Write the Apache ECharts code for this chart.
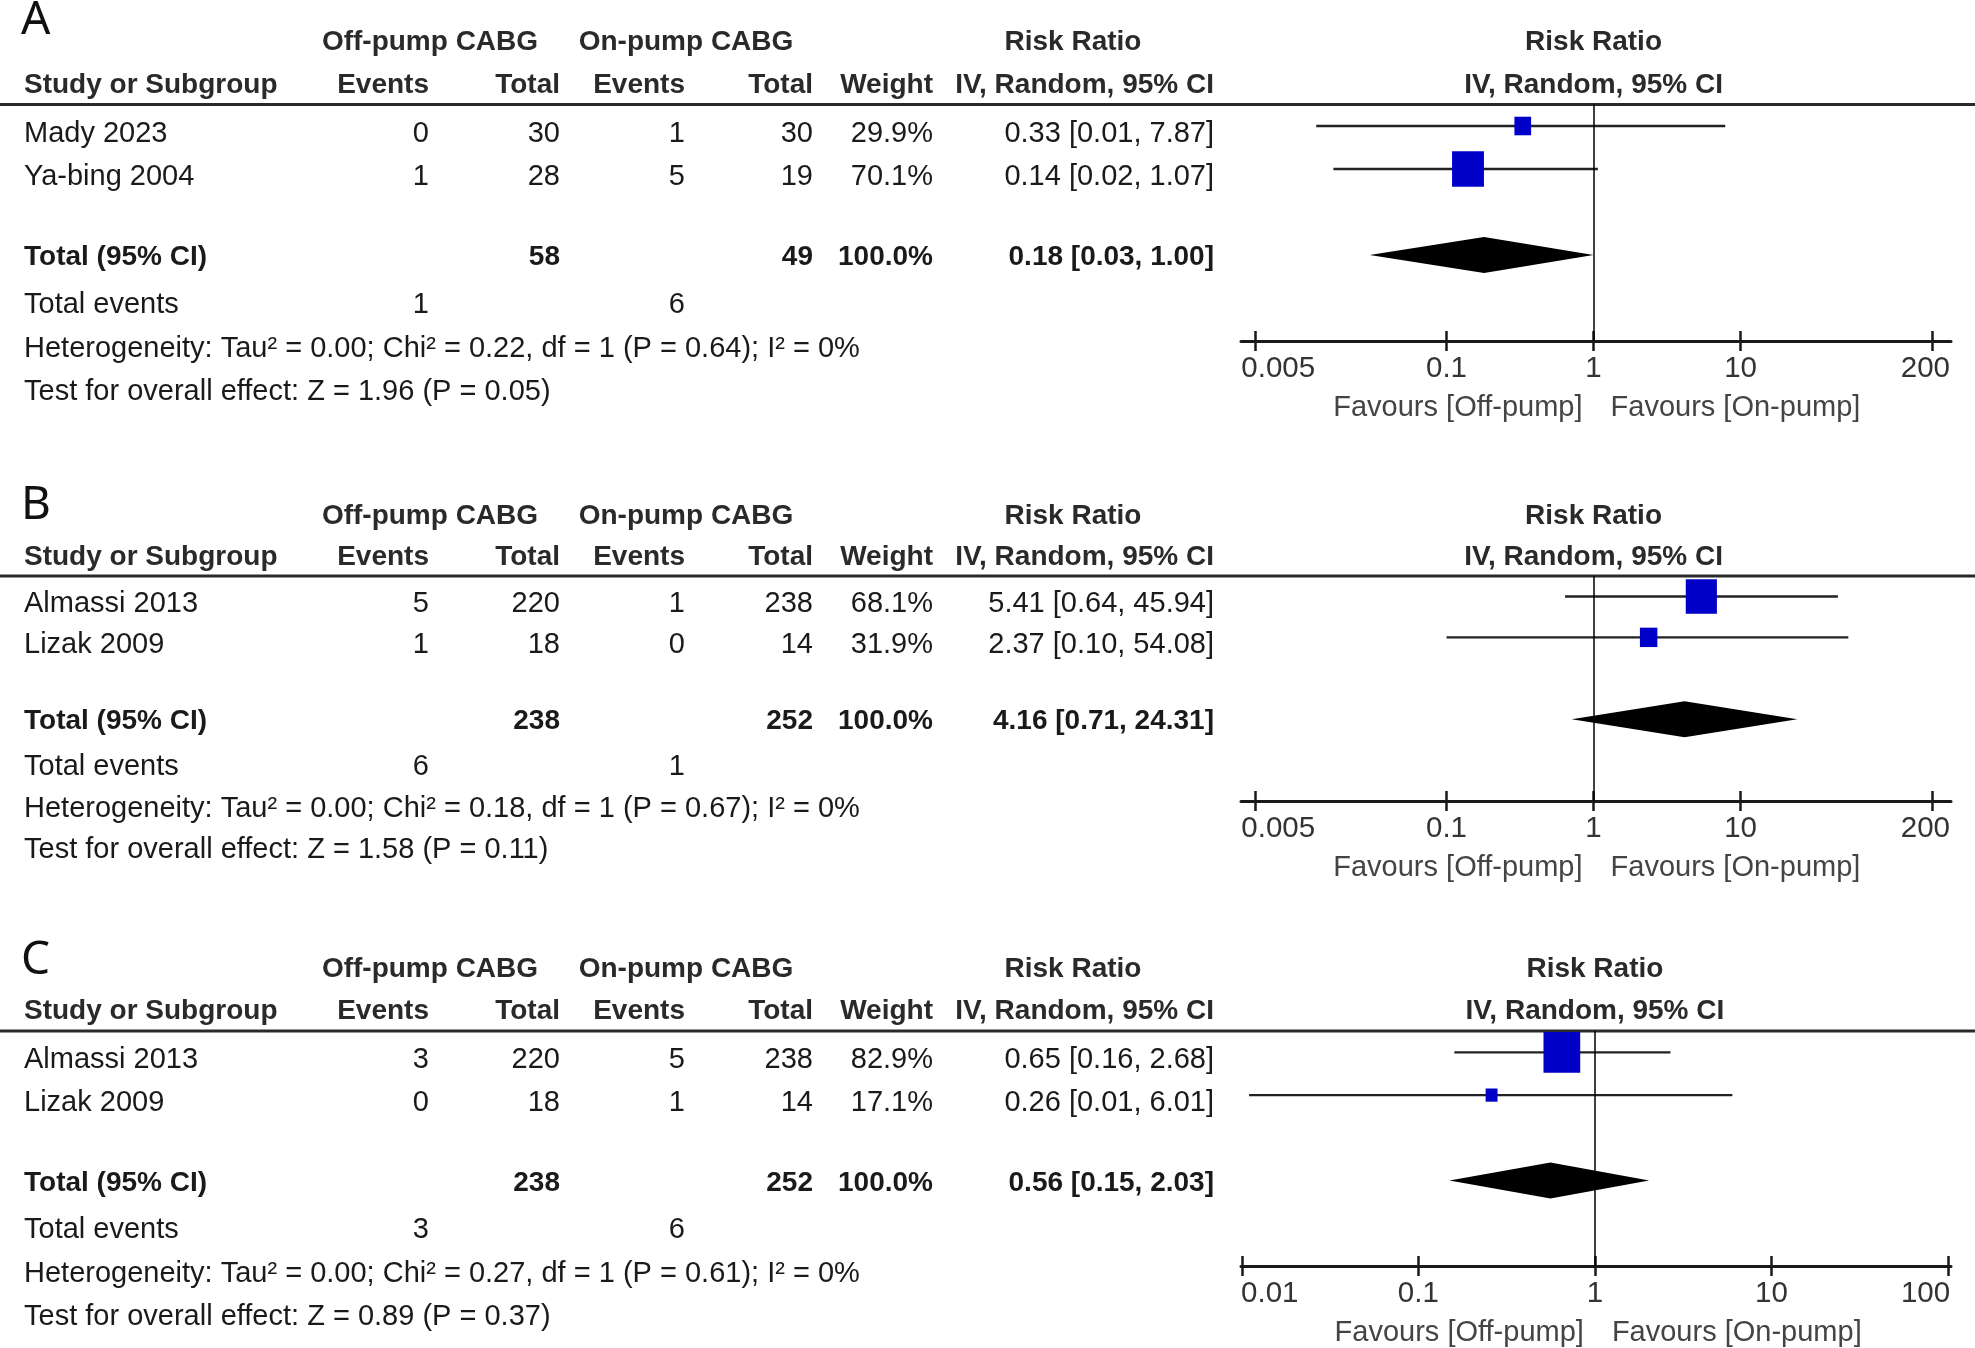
<!DOCTYPE html>
<html>
<head>
<meta charset="utf-8">
<script src="https://cdn.jsdelivr.net/npm/echarts@6/dist/echarts.min.js"></script>
<style>
html,body{margin:0;padding:0;background:#fff;}
#chart{width:1975px;height:1348px;}
</style>
</head>
<body>
<div id="chart"></div>
<script>
// ---------------- DATA ----------------
const panelLabels = ['A', 'B', 'C'];
const studyNames = [['Mady 2023', 'Ya-bing 2004'], ['Almassi 2013', 'Lizak 2009'], ['Almassi 2013', 'Lizak 2009']];
const offEvents = [[0, 1], [5, 1], [3, 0]];
const offTotal = [[30, 28], [220, 18], [220, 18]];
const onEvents = [[1, 5], [1, 0], [5, 1]];
const onTotal = [[30, 19], [238, 14], [238, 14]];
const weights = [[29.9, 70.1], [68.1, 31.9], [82.9, 17.1]];
const riskRatio = [[0.33, 0.14], [5.41, 2.37], [0.65, 0.26]];
const ciLow = [[0.013, 0.017], [0.64, 0.10], [0.16, 0.011]];
const ciHigh = [[7.87, 1.07], [45.94, 54.08], [2.68, 6.01]];
const totalOff = [58, 238, 238];
const totalOn = [49, 252, 252];
const totalRR = [0.18, 4.16, 0.56];
const totalLow = [0.03, 0.71, 0.15];
const totalHigh = [1.00, 24.31, 2.03];
const totalEventsOff = [1, 6, 3];
const totalEventsOn = [6, 1, 6];
const heterogeneity = [
  'Heterogeneity: Tau\u00b2 = 0.00; Chi\u00b2 = 0.22, df = 1 (P = 0.64); I\u00b2 = 0%',
  'Heterogeneity: Tau\u00b2 = 0.00; Chi\u00b2 = 0.18, df = 1 (P = 0.67); I\u00b2 = 0%',
  'Heterogeneity: Tau\u00b2 = 0.00; Chi\u00b2 = 0.27, df = 1 (P = 0.61); I\u00b2 = 0%'
];
const overallEffect = [
  'Test for overall effect: Z = 1.96 (P = 0.05)',
  'Test for overall effect: Z = 1.58 (P = 0.11)',
  'Test for overall effect: Z = 0.89 (P = 0.37)'
];
const axisTicks = [[0.005, 0.1, 1, 10, 200], [0.005, 0.1, 1, 10, 200], [0.01, 0.1, 1, 10, 100]];
const axisRange = [[0.004, 270], [0.004, 270], [0.0099, 104]];
const groupHeaders = ['Off-pump CABG', 'On-pump CABG', 'Risk Ratio'];
const columnHeaders = ['Study or Subgroup', 'Events', 'Total', 'Events', 'Total', 'Weight', 'IV, Random, 95% CI'];
const favoursLabels = ['Favours [Off-pump]', 'Favours [On-pump]'];

// ---------------- LAYOUT ----------------
const W = 1975;
const panelTop = [104.5, 576, 1031];
const panelAxisY = [341, 801, 1266];
const letterY = [21, 506, 961];
const endLabelPad = [[46, 13], [46, 13], [56, 45]];
const gridLeft = 1241, gridRight = 24;
const studyX = 24;
const colRight = [429, 560, 685, 813, 933, 1214];
const groupCenter = [430, 686, 1073];
const ROW = {head1: -1, head2: 0, total: 4, events: 5, het: 6, test: 7};
const ROWOFF = {head1: 2, head2: 2, study: 8, total: 2.5, events: 7, het: 8, test: 8};
const FONT = '"Liberation Sans", Arial, sans-serif';
const FS = 29, FSB = 28, FSAX = 29.5;
const TXT = '#1a1a1a', HEAD = '#2a2a2a';

const chart = echarts.init(document.getElementById('chart'), null, {renderer: 'canvas'});

const grids = [], xAxes = [], yAxes = [], series = [];
for (let p = 0; p < 3; p++) {
  grids.push({left: gridLeft, right: gridRight, top: panelTop[p], height: panelAxisY[p] - panelTop[p]});
  const base = {
    type: 'log', logBase: 10, gridIndex: p, min: axisRange[p][0], max: axisRange[p][1],
    position: 'bottom', splitLine: {show: false}, minorTick: {show: false}
  };
  const ticks = axisTicks[p];
  const lblStyle = {fontFamily: FONT, fontSize: FSAX, color: '#333'};
  xAxes.push(Object.assign({}, base, {
    axisLine: {show: true, lineStyle: {color: '#1a1a1a', width: 3}},
    axisTick: {show: true, inside: false, length: 10, lineStyle: {color: '#1a1a1a', width: 2.5}, customValues: ticks},
    axisLabel: {show: true, margin: 13, fontFamily: FONT, fontSize: FSAX, color: '#333',
      customValues: ticks,
      formatter: v => {
        const s = String(parseFloat(Number(v).toPrecision(6)));
        if (Math.abs(Math.log10(v) - Math.log10(ticks[0])) < 1e-6) return '{a|' + s + '}';
        if (Math.abs(Math.log10(v) - Math.log10(ticks[ticks.length - 1])) < 1e-6) return '{z|' + s + '}';
        return s;
      },
      rich: {
        a: Object.assign({padding: [0, 0, 0, endLabelPad[p][0]]}, lblStyle),
        z: Object.assign({padding: [0, endLabelPad[p][1], 0, 0]}, lblStyle)
      }}
  }));
  xAxes.push(Object.assign({}, base, {
    axisLine: {show: false},
    axisTick: {show: true, inside: true, length: 10, lineStyle: {color: '#1a1a1a', width: 2.5}, customValues: ticks},
    axisLabel: {show: false}
  }));
  yAxes.push({type: 'value', gridIndex: p, min: 0.5, max: 6, inverse: true, show: false});

  const studyData = riskRatio[p].map((v, i) => [v, i + 1, ciLow[p][i], ciHigh[p][i], weights[p][i]]);
  series.push({
    type: 'custom', xAxisIndex: 2 * p, yAxisIndex: p, data: studyData, z: 3,
    encode: {x: 0, y: 1},
    renderItem: (params, api) => {
      const row = api.value(1);
      const c = api.coord([api.value(0), row]);
      const l = api.coord([api.value(2), row]);
      const r = api.coord([api.value(3), row]);
      const h = 6 + 0.42 * api.value(4);
      const w = 0.9 * h;
      return {type: 'group', children: [
        {type: 'line', shape: {x1: l[0], y1: l[1], x2: r[0], y2: r[1]}, style: {stroke: '#222', lineWidth: 2.4}},
        {type: 'rect', shape: {x: c[0] - w / 2, y: c[1] - h / 2, width: w, height: h}, style: {fill: '#0000c8'}}
      ]};
    },
    markLine: {silent: true, symbol: 'none', label: {show: false},
      lineStyle: {color: '#000', width: 1.5, type: 'solid'}, data: [{xAxis: 1}]}
  });
  series.push({
    type: 'custom', xAxisIndex: 2 * p, yAxisIndex: p, z: 3,
    data: [[totalRR[p], ROW.total, totalLow[p], totalHigh[p]]],
    encode: {x: 0, y: 1},
    renderItem: (params, api) => {
      const row = api.value(1);
      const c = api.coord([api.value(0), row]);
      const l = api.coord([api.value(2), row]);
      const r = api.coord([api.value(3), row]);
      const hh = 18;
      return {type: 'polygon', shape: {points: [[l[0], c[1]], [c[0], c[1] - hh], [r[0], c[1]], [c[0], c[1] + hh]]},
        style: {fill: '#000'}};
    }
  });
}

chart.setOption({
  animation: false,
  backgroundColor: '#fff',
  grid: grids, xAxis: xAxes, yAxis: yAxes, series: series
});

// ---------------- TABLE TEXT ----------------
const fmt2 = v => v.toFixed(2);
const ciText = (m, lo, hi) => fmt2(m) + ' [' + fmt2(lo) + ', ' + fmt2(hi) + ']';
const graphics = [];
function txt(text, x, y, align, bold, color, size, family) {
  graphics.push({type: 'text', x: x, y: y, silent: true, style: {
    text: String(text), align: align, verticalAlign: 'middle',
    fontFamily: family || FONT, fontSize: size || (bold ? FSB : FS), fontWeight: bold ? 'bold' : 'normal', fill: color || TXT
  }});
}
for (let p = 0; p < 3; p++) {
  const rowY = (r, k) => chart.convertToPixel({gridIndex: p}, [1, r])[1] + ROWOFF[k];
  const oneX = chart.convertToPixel({gridIndex: p}, [1, 1])[0];
  // panel letter
  txt(panelLabels[p], 21, letterY[p], 'left', false, '#111', 46, '"Noto Sans", "Open Sans", sans-serif');
  // header rule
  graphics.push({type: 'line', silent: true, shape: {x1: 0, y1: panelTop[p], x2: W, y2: panelTop[p]},
    style: {stroke: '#2a2a2a', lineWidth: 3}});
  // group headers
  const h1 = rowY(ROW.head1, 'head1'), h2 = rowY(ROW.head2, 'head2');
  groupHeaders.forEach((g, i) => txt(g, groupCenter[i], h1, 'center', true, HEAD));
  txt(groupHeaders[2], oneX, h1, 'center', true, HEAD);
  txt(columnHeaders[0], studyX, h2, 'left', true, HEAD);
  for (let c = 1; c < columnHeaders.length; c++) txt(columnHeaders[c], colRight[c - 1], h2, 'right', true, HEAD);
  txt(columnHeaders[6], oneX, h2, 'center', true, HEAD);
  // studies
  studyNames[p].forEach((name, i) => {
    const y = rowY(i + 1, 'study');
    txt(name, studyX, y, 'left');
    txt(offEvents[p][i], colRight[0], y, 'right');
    txt(offTotal[p][i], colRight[1], y, 'right');
    txt(onEvents[p][i], colRight[2], y, 'right');
    txt(onTotal[p][i], colRight[3], y, 'right');
    txt(weights[p][i].toFixed(1) + '%', colRight[4], y, 'right');
    txt(ciText(riskRatio[p][i], ciLow[p][i], ciHigh[p][i]), colRight[5], y, 'right');
  });
  // total row
  const ty = rowY(ROW.total, 'total');
  txt('Total (95% CI)', studyX, ty, 'left', true);
  txt(totalOff[p], colRight[1], ty, 'right', true);
  txt(totalOn[p], colRight[3], ty, 'right', true);
  txt('100.0%', colRight[4], ty, 'right', true);
  txt(ciText(totalRR[p], totalLow[p], totalHigh[p]), colRight[5], ty, 'right', true);
  // total events
  const ey = rowY(ROW.events, 'events');
  txt('Total events', studyX, ey, 'left');
  txt(totalEventsOff[p], colRight[0], ey, 'right');
  txt(totalEventsOn[p], colRight[2], ey, 'right');
  txt(heterogeneity[p], studyX, rowY(ROW.het, 'het'), 'left');
  txt(overallEffect[p], studyX, rowY(ROW.test, 'test'), 'left');
  // favours labels
  const fy = panelAxisY[p] + 67;
  txt(favoursLabels[0], oneX - 11, fy, 'right', false, '#444');
  txt(favoursLabels[1], oneX + 17, fy, 'left', false, '#444');
}
chart.setOption({graphic: {elements: graphics}});
</script>
</body>
</html>
